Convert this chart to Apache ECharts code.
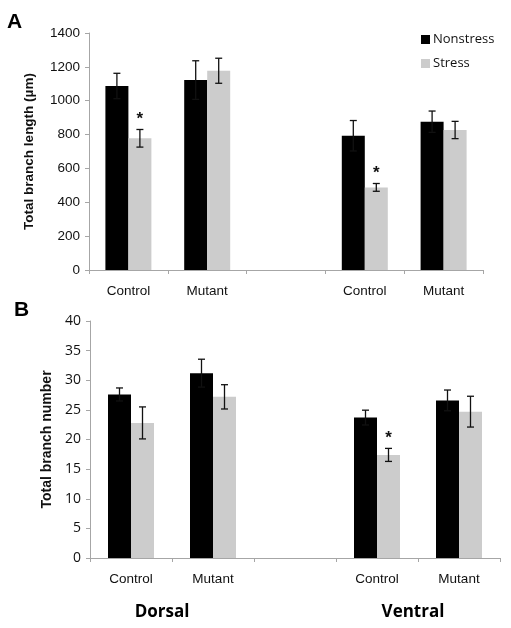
<!DOCTYPE html>
<html><head><meta charset="utf-8">
<script src="https://cdn.jsdelivr.net/npm/echarts@6/dist/echarts.min.js"></script>
<style>html,body{margin:0;padding:0;background:#fff}#c{width:511px;height:628px}</style>
</head><body><div id="c"></div>
<script>
var categories = ['Control', 'Mutant', '', 'Control', 'Mutant'];
var seriesNames = ['Nonstress', 'Stress'];
var lengthNonstress = [1087, 1122, null, 793, 876];
var lengthNonstressErr = [75, 114, null, 90, 63];
var lengthStress = [778, 1177, null, 488, 827];
var lengthStressErr = [52, 74, null, 23, 51];
var lengthStressSig = [true, false, false, true, false];
var numberNonstress = [27.6, 31.2, null, 23.7, 26.6];
var numberNonstressErr = [1.1, 2.35, null, 1.25, 1.75];
var numberStress = [22.8, 27.2, null, 17.4, 24.7];
var numberStressErr = [2.7, 2.05, null, 1.1, 2.6];
var numberStressSig = [false, false, false, true, false];
var lengthTicks = {min: 0, max: 1400, interval: 200};
var numberTicks = {min: 0, max: 40, interval: 5};

var BLACK = '#000000', GRAY = '#cccccc', AXIS = '#a6a6a6';
var BARW = 23;
var ARIAL = '"Liberation Sans", Arial, sans-serif';
var CALIBRI = '"Open Sans", Lato, sans-serif';

function errSeries(gi, vals, errs, sig, offset) {
  var data = [];
  for (var i = 0; i < vals.length; i++) {
    if (vals[i] == null) continue;
    data.push([i, vals[i], errs[i], sig[i] ? 1 : 0]);
  }
  return {
    type: 'custom', xAxisIndex: gi, yAxisIndex: gi, z: 10, silent: true,
    data: data,
    renderItem: function (params, api) {
      var x = api.value(0), v = api.value(1), e = api.value(2), s = api.value(3);
      var top = api.coord([x, v + e]);
      var bot = api.coord([x, v - e]);
      var cx = top[0] + offset, h = 3.5;
      var style = {stroke: '#111', lineWidth: 1.3};
      var ch = [
        {type: 'line', shape: {x1: cx, y1: top[1], x2: cx, y2: bot[1]}, style: style},
        {type: 'line', shape: {x1: cx - h, y1: top[1], x2: cx + h, y2: top[1]}, style: style},
        {type: 'line', shape: {x1: cx - h, y1: bot[1], x2: cx + h, y2: bot[1]}, style: style}
      ];
      if (s) {
        ch.push({type: 'text', style: {text: '*', x: cx, y: top[1] - 2, align: 'center', verticalAlign: 'bottom',
          font: 'bold 17px ' + ARIAL, fill: '#111'}});
      }
      return {type: 'group', children: ch};
    }
  };
}

function barSeries(gi, name, vals, color) {
  return {type: 'bar', name: name, xAxisIndex: gi, yAxisIndex: gi, data: vals, barWidth: BARW, barGap: '0%',
    itemStyle: {color: color}, silent: true};
}

function xAx(gi) {
  return {type: 'category', gridIndex: gi, data: categories, boundaryGap: true,
    axisLine: {lineStyle: {color: AXIS, width: 1}},
    axisTick: {show: true, inside: false, length: 4, alignWithLabel: false, lineStyle: {color: AXIS}},
    axisLabel: {margin: 14, color: '#111', fontSize: 13.5, fontFamily: ARIAL, interval: 0}};
}

var chart = echarts.init(document.getElementById('c'), null, {renderer: 'canvas'});
chart.setOption({
  animation: false,
  backgroundColor: '#fff',
  grid: [
    {left: 89, right: 28, top: 33, height: 237},
    {left: 90, right: 11, top: 321, height: 237}
  ],
  legend: {
    data: seriesNames, orient: 'vertical', left: 416, top: 28, itemWidth: 9, itemHeight: 9, itemGap: 11,
    icon: 'rect', textStyle: {fontSize: 13, color: '#111', fontFamily: CALIBRI, padding: [0, 0, 0, -2]}
  },
  xAxis: [xAx(0), xAx(1)],
  yAxis: [
    {type: 'value', gridIndex: 0, min: lengthTicks.min, max: lengthTicks.max, interval: lengthTicks.interval,
      name: 'Total branch length (\u00b5m)', nameLocation: 'middle', nameGap: 53,
      nameTextStyle: {fontWeight: 'bold', fontSize: 13.5, color: '#111', fontFamily: ARIAL},
      axisLine: {show: true, lineStyle: {color: AXIS}}, axisTick: {show: true, length: 4, lineStyle: {color: AXIS}},
      splitLine: {show: false},
      axisLabel: {margin: 9, fontSize: 13.5, color: '#111', fontFamily: ARIAL, formatter: function (v) { return String(v); }}},
    {type: 'value', gridIndex: 1, min: numberTicks.min, max: numberTicks.max, interval: numberTicks.interval,
      name: 'Total branch number', nameLocation: 'middle', nameGap: 36,
      nameTextStyle: {fontWeight: 'bold', fontSize: 14, color: '#111', fontFamily: ARIAL},
      axisLine: {show: true, lineStyle: {color: AXIS}}, axisTick: {show: true, length: 4, lineStyle: {color: AXIS}},
      splitLine: {show: false},
      axisLabel: {margin: 9, fontSize: 14, color: '#111', fontFamily: CALIBRI}}
  ],
  series: [
    barSeries(0, seriesNames[0], lengthNonstress, BLACK),
    barSeries(0, seriesNames[1], lengthStress, GRAY),
    errSeries(0, lengthNonstress, lengthNonstressErr, [false, false, false, false, false], -BARW / 2),
    errSeries(0, lengthStress, lengthStressErr, lengthStressSig, BARW / 2),
    barSeries(1, seriesNames[0], numberNonstress, BLACK),
    barSeries(1, seriesNames[1], numberStress, GRAY),
    errSeries(1, numberNonstress, numberNonstressErr, [false, false, false, false, false], -BARW / 2),
    errSeries(1, numberStress, numberStressErr, numberStressSig, BARW / 2)
  ],
  graphic: [
    {type: 'text', left: 7, top: 12, style: {text: 'A', font: 'bold 21px ' + ARIAL, fill: '#000'}},
    {type: 'text', left: 14, top: 300, style: {text: 'B', font: 'bold 21px ' + ARIAL, fill: '#000'}},
    {type: 'text', x: 162, y: 612, style: {text: 'Dorsal', align: 'center', verticalAlign: 'middle', font: 'bold 17px ' + CALIBRI, fill: '#000'}},
    {type: 'text', x: 413, y: 612, style: {text: 'Ventral', align: 'center', verticalAlign: 'middle', font: 'bold 17px ' + CALIBRI, fill: '#000'}}
  ]
});
</script></body></html>
